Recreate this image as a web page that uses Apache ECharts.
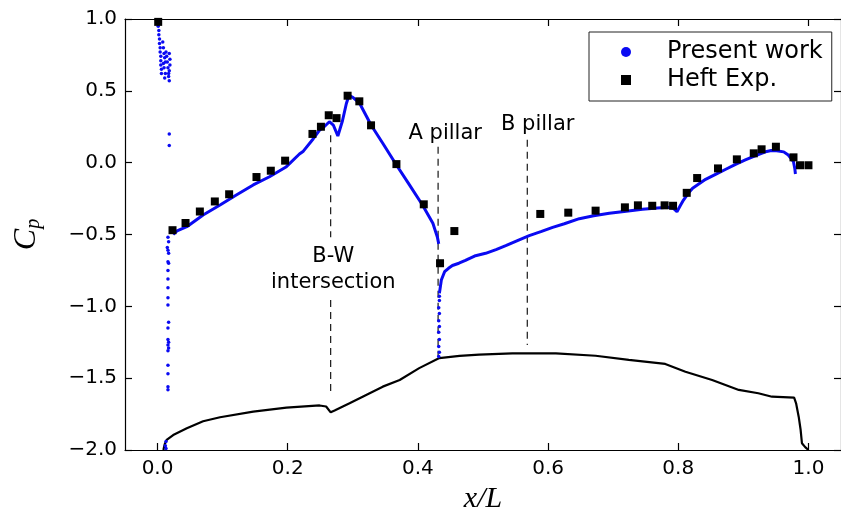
<!DOCTYPE html>
<html>
<head>
<meta charset="utf-8">
<script src="https://cdn.jsdelivr.net/npm/echarts@6/dist/echarts.min.js"></script>
<style>
  html, body { margin: 0; padding: 0; background: #ffffff; }
  #chart { width: 841px; height: 524px; }
</style>
</head>
<body>
<div id="chart"></div>
<script>
// ---- axis settings ----
const xTickValues = [0.0, 0.2, 0.4, 0.6, 0.8, 1.0];
const xRange = [-0.05, 1.05];
const yRange = [-2.0, 1.0];
const yStep = 0.5;

// ---- Present work: continuous Cp distribution (x/L, Cp) ----
const presentRoof = [
  [0.024, -0.50], [0.030, -0.475], [0.045, -0.446], [0.070, -0.364], [0.096, -0.295],
  [0.121, -0.225], [0.147, -0.155], [0.172, -0.098], [0.198, -0.028], [0.218, 0.060],
  [0.224, 0.080], [0.239, 0.165], [0.249, 0.227], [0.256, 0.250], [0.264, 0.285],
  [0.270, 0.262], [0.277, 0.186], [0.284, 0.290], [0.290, 0.410], [0.294, 0.468],
  [0.300, 0.455], [0.310, 0.417], [0.328, 0.262], [0.346, 0.135], [0.367, -0.016],
  [0.387, -0.155], [0.407, -0.295], [0.423, -0.422], [0.430, -0.520], [0.432, -0.565]
];
const presentSide = [
  [0.433, -0.91], [0.436, -0.817], [0.441, -0.759], [0.447, -0.735], [0.453, -0.716],
  [0.463, -0.700], [0.473, -0.680], [0.487, -0.650], [0.504, -0.631], [0.520, -0.605],
  [0.535, -0.578], [0.552, -0.545], [0.571, -0.508], [0.590, -0.478], [0.607, -0.450],
  [0.625, -0.425], [0.648, -0.390], [0.670, -0.370], [0.694, -0.352], [0.720, -0.338],
  [0.745, -0.325], [0.768, -0.316], [0.785, -0.311], [0.793, -0.320], [0.798, -0.341],
  [0.803, -0.300], [0.808, -0.260], [0.815, -0.215], [0.822, -0.178], [0.842, -0.116],
  [0.858, -0.080], [0.873, -0.046], [0.888, -0.012], [0.903, 0.019], [0.918, 0.048],
  [0.934, 0.076], [0.943, 0.085], [0.951, 0.083], [0.962, 0.075], [0.969, 0.053],
  [0.977, 0.007], [0.979, -0.040], [0.980, -0.079]
];
// ---- Present work: scattered cells near the nose and the A pillar ----
const presentDots = [
  [0.001, 0.98], [0.001, 0.95], [0.002, 0.92], [0.002, 0.89], [0.003, 0.86], [0.003, 0.83],
  [0.004, 0.80], [0.004, 0.77], [0.005, 0.74], [0.005, 0.71], [0.005, 0.68], [0.006, 0.65],
  [0.006, 0.62], [0.008, 0.84], [0.009, 0.80], [0.010, 0.76], [0.011, 0.73], [0.012, 0.70],
  [0.013, 0.77], [0.014, 0.74], [0.015, 0.70], [0.016, 0.66], [0.017, 0.62], [0.018, 0.76],
  [0.019, 0.72], [0.019, 0.68], [0.018, 0.64], [0.017, 0.60], [0.018, 0.57], [0.010, 0.66],
  [0.012, 0.62], [0.011, 0.59], [0.009, 0.69],
  [0.018, 0.20], [0.018, 0.12],
  [0.016, -0.52], [0.017, -0.55], [0.015, -0.59], [0.016, -0.61], [0.017, -0.63],
  [0.016, -0.69], [0.017, -0.70], [0.016, -0.75], [0.016, -0.81], [0.016, -0.87],
  [0.016, -0.94], [0.016, -0.99], [0.017, -1.11], [0.016, -1.15], [0.016, -1.23],
  [0.017, -1.25], [0.016, -1.27], [0.017, -1.29], [0.016, -1.31], [0.016, -1.41],
  [0.016, -1.47], [0.016, -1.56], [0.016, -1.58],
  [0.013, -1.94], [0.012, -1.97], [0.013, -1.99],
  [0.433, -0.93], [0.433, -0.96], [0.432, -1.01], [0.433, -1.05], [0.432, -1.10],
  [0.433, -1.14], [0.432, -1.18], [0.433, -1.23], [0.432, -1.28], [0.433, -1.32], [0.432, -1.35]
];
// ---- Heft experiment ----
const heftExp = [
  [0.001, 0.98], [0.023, -0.47], [0.043, -0.42], [0.065, -0.34], [0.088, -0.27],
  [0.110, -0.22], [0.152, -0.10], [0.174, -0.056], [0.196, 0.014], [0.238, 0.20],
  [0.251, 0.25], [0.263, 0.33], [0.275, 0.31], [0.292, 0.466], [0.310, 0.427],
  [0.328, 0.26], [0.367, -0.01], [0.409, -0.29], [0.434, -0.70], [0.456, -0.476],
  [0.588, -0.357], [0.631, -0.348], [0.673, -0.334], [0.718, -0.311], [0.738, -0.297],
  [0.760, -0.30], [0.779, -0.297], [0.792, -0.30], [0.813, -0.21], [0.829, -0.107],
  [0.861, -0.04], [0.890, 0.023], [0.916, 0.065], [0.928, 0.093], [0.950, 0.111],
  [0.977, 0.037], [0.987, -0.018], [1.000, -0.018]
];
// ---- body profile (upper surface outline, plotted on the Cp scale) ----
const bodyProfile = [
  [0.009, -2.0], [0.011, -1.96], [0.014, -1.93], [0.024, -1.896], [0.045, -1.849],
  [0.070, -1.800], [0.096, -1.772], [0.147, -1.733], [0.198, -1.705], [0.249, -1.690],
  [0.259, -1.697], [0.266, -1.738], [0.272, -1.725], [0.295, -1.675], [0.346, -1.559],
  [0.372, -1.513], [0.402, -1.430], [0.433, -1.360], [0.464, -1.345], [0.494, -1.336],
  [0.545, -1.327], [0.612, -1.327], [0.673, -1.344], [0.724, -1.373], [0.780, -1.401],
  [0.811, -1.455], [0.852, -1.513], [0.893, -1.582], [0.923, -1.605], [0.944, -1.629],
  [0.978, -1.636], [0.981, -1.675], [0.985, -1.768], [0.988, -1.861], [0.990, -1.953],
  [0.995, -1.980], [1.000, -2.0]
];
// ---- station markers (dashed) and their labels ----
const stationLines = [
  [[0.266, 0.19], [0.266, -0.52]],
  [[0.266, -0.956], [0.266, -1.62]],
  [[0.431, 0.11], [0.431, -1.35]],
  [[0.568, 0.16], [0.568, -1.27]]
];
const stationLabels = [
  { text: 'B-W\nintersection', at: [0.270, -0.742] },
  { text: 'A pillar', at: [0.442, 0.205] },
  { text: 'B pillar', at: [0.584, 0.262] }
];

const BLUE = '#0a0af2';
const FONT = 'DejaVu Sans';

const fmt = v => {
  const s = Math.abs(v) < 1e-9 ? '0.0' : v.toFixed(1);
  return s.replace('-', '\u2212');
};

const axisLineStyle = { color: '#000', width: 1.2 };

const chart = echarts.init(document.getElementById('chart'), null, { renderer: 'canvas' });

const series = [];
series.push({
  name: 'body', type: 'line', data: bodyProfile, showSymbol: false, symbol: 'none',
  lineStyle: { color: '#000', width: 2.2 }, z: 2, silent: true
});
stationLines.forEach((seg, i) => {
  series.push({
    name: 'station' + i, type: 'line', data: seg, symbol: 'none',
    lineStyle: { color: '#000', width: 1.1, type: [7, 5] }, z: 1, silent: true
  });
});
series.push({
  name: 'Present work', type: 'line', data: presentRoof, symbol: 'none',
  lineStyle: { color: BLUE, width: 3 }, itemStyle: { color: BLUE }, z: 3
});
series.push({
  name: 'Present work', type: 'line', data: presentSide, symbol: 'none',
  lineStyle: { color: BLUE, width: 3 }, itemStyle: { color: BLUE }, z: 3
});
series.push({
  name: 'Present work', type: 'scatter', data: presentDots, symbol: 'circle', symbolSize: 3.5,
  itemStyle: { color: BLUE, opacity: 1 }, z: 3
});
series.push({
  name: 'Heft Exp.', type: 'scatter', data: heftExp, symbol: 'rect', symbolSize: 8,
  itemStyle: { color: '#000', opacity: 1 }, z: 4
});
series.push({
  name: 'labels', type: 'scatter', symbolSize: 0, silent: true, z: 5,
  itemStyle: { opacity: 1 },
  data: stationLabels.map(s => ({ value: s.at, text: s.text })),
  label: {
    show: true, position: 'inside', color: '#000', opacity: 1, fontFamily: FONT, fontSize: 21,
    lineHeight: 26, align: 'center', verticalAlign: 'middle',
    formatter: p => p.data.text
  }
});

chart.setOption({
  animation: false,
  backgroundColor: '#ffffff',
  grid: { left: 125, right: -2, top: 19, bottom: 74, containLabel: false },
  legend: {
    left: 589, top: 32, orient: 'vertical',
    data: [
      { name: 'Present work', icon: 'circle' },
      { name: 'Heft Exp.', icon: 'path://M0,0H10V10H0Z' }
    ],
    itemWidth: 72, itemHeight: 10, itemGap: 4, symbolKeepAspect: true,
    padding: [8, 9, 9, 32],
    borderColor: '#222', borderWidth: 1, borderRadius: 0,
    textStyle: { fontFamily: FONT, fontSize: 24, lineHeight: 24, color: '#000' },
    selectedMode: false
  },
  xAxis: [
    {
      type: 'value', min: xRange[0], max: xRange[1], position: 'bottom',
      axisLine: { show: true, onZero: false, lineStyle: axisLineStyle },
      axisTick: { show: true, inside: true, length: 7, customValues: xTickValues, lineStyle: axisLineStyle },
      axisLabel: { customValues: xTickValues, formatter: fmt, fontFamily: FONT, fontSize: 20, color: '#000', margin: 9 },
      splitLine: { show: false },
      name: 'x/L', nameLocation: 'middle', nameGap: 31,
      nameTextStyle: { fontFamily: 'Liberation Serif', fontStyle: 'italic', fontSize: 30, color: '#000' }
    },
    {
      type: 'value', min: xRange[0], max: xRange[1], position: 'top',
      axisLine: { show: true, onZero: false, lineStyle: axisLineStyle },
      axisTick: { show: true, inside: true, length: 7, customValues: xTickValues, lineStyle: axisLineStyle },
      axisLabel: { show: false }, splitLine: { show: false }
    }
  ],
  yAxis: [
    {
      type: 'value', min: yRange[0], max: yRange[1], interval: yStep, position: 'left',
      axisLine: { show: true, onZero: false, lineStyle: axisLineStyle },
      axisTick: { show: true, inside: true, length: 7, lineStyle: axisLineStyle },
      axisLabel: { formatter: fmt, fontFamily: FONT, fontSize: 20, color: '#000', margin: 8 },
      splitLine: { show: false },
      name: '{c|C}{p|p}', nameLocation: 'middle', nameGap: 80,
      nameTextStyle: {
        color: '#000',
        rich: {
          c: { fontFamily: 'Liberation Serif', fontStyle: 'italic', fontSize: 32, lineHeight: 36 },
          p: { fontFamily: 'Liberation Serif', fontStyle: 'italic', fontSize: 20, lineHeight: 36, padding: [14, 0, 0, 0] }
        }
      }
    },
    {
      type: 'value', min: yRange[0], max: yRange[1], interval: yStep, position: 'right',
      axisLine: { show: true, onZero: false, lineStyle: axisLineStyle },
      axisTick: { show: true, inside: true, length: 7, lineStyle: axisLineStyle },
      axisLabel: { show: false }, splitLine: { show: false }
    }
  ],
  series: series
});
</script>
</body>
</html>
